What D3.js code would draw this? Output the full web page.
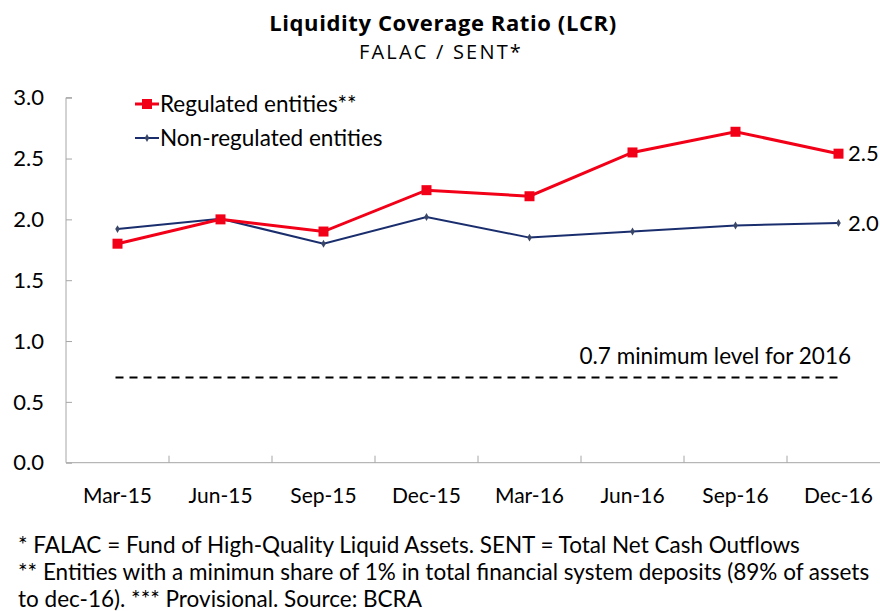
<!DOCTYPE html>
<html>
<head>
<meta charset="utf-8">
<script src="https://cdn.jsdelivr.net/npm/d3@7"></script>
<style>
  body { margin: 0; background: #fff; }
  svg text { font-family: Lato, "Open Sans", sans-serif; fill: #000; }
</style>
</head>
<body>
<div class="chart"></div>
<script>
const width = 880;
const height = 611;

const quarters = ["Mar-15", "Jun-15", "Sep-15", "Dec-15", "Mar-16", "Jun-16", "Sep-16", "Dec-16"];
const regulated = [1.80, 2.00, 1.90, 2.24, 2.19, 2.55, 2.72, 2.54];
const nonRegulated = [1.92, 2.005, 1.80, 2.02, 1.85, 1.90, 1.95, 1.97];
const yTicks = [0, 0.5, 1.0, 1.5, 2.0, 2.5, 3.0];
const minLevel = 0.7;
const footnotes = [
  "* FALAC = Fund of High-Quality Liquid Assets. SENT = Total Net Cash Outflows",
  "** Entities with a minimun share of 1% in total financial system deposits (89% of assets",
  "to dec-16). *** Provisional. Source: BCRA"
];

const red = "#f20018";
const navy = "#1a2e6e";

const svg = d3.select(".chart").append("svg").attr("width", width).attr("height", height);

const x = d3.scaleBand()
    .domain(quarters)
    .range([66, 890]);

const y = d3.scaleLinear()
    .domain([0, 3])
    .range([462.7, 97.7]);

const xc = d => x(d) + x.bandwidth() / 2;

// title
svg.append("text")
    .attr("x", 443).attr("y", 31)
    .attr("text-anchor", "middle")
    .style("font-family", "'Open Sans', sans-serif")
    .style("font-weight", "bold").style("font-size", "22px")
    .style("letter-spacing", "0.6px")
    .text("Liquidity Coverage Ratio (LCR)");
svg.append("text")
    .attr("x", 441).attr("y", 59)
    .attr("text-anchor", "middle")
    .style("font-family", "'Open Sans', sans-serif")
    .style("font-size", "20px")
    .style("letter-spacing", "2.2px")
    .text("FALAC / SENT*");

// axes
const yAxis = svg.append("g")
    .attr("transform", "translate(66,0)")
    .call(d3.axisRight(y).tickValues(yTicks).tickSize(6).tickFormat(""));
yAxis.select(".domain").attr("stroke", "#a6a6a6").attr("d", `M6,${y(3)}H0V${y(0)}`);
yAxis.selectAll(".tick line").attr("stroke", "#a6a6a6");

svg.selectAll(".ylab")
  .data(yTicks)
  .enter()
    .append("text")
    .attr("class", "ylab")
    .attr("x", 44)
    .attr("y", d => y(d))
    .attr("dy", "0.35em")
    .attr("text-anchor", "end")
    .style("font-size", "22px")
    .text(d => d.toFixed(1));

svg.append("line")
    .attr("x1", 66).attr("x2", 880)
    .attr("y1", y(0)).attr("y2", y(0))
    .attr("stroke", "#a6a6a6");

svg.selectAll(".xtick")
  .data(quarters.slice(1))
  .enter()
    .append("line")
    .attr("class", "xtick")
    .attr("x1", d => x(d)).attr("x2", d => x(d))
    .attr("y1", y(0)).attr("y2", y(0) - 7)
    .attr("stroke", "#a6a6a6");

svg.selectAll(".xlab")
  .data(quarters)
  .enter()
    .append("text")
    .attr("class", "xlab")
    .attr("x", d => xc(d))
    .attr("y", 503)
    .attr("text-anchor", "middle")
    .style("font-size", "21px")
    .text(d => d);

// minimum level
svg.append("line")
    .attr("x1", xc(quarters[0]) - 2).attr("x2", xc(quarters[7]))
    .attr("y1", y(minLevel)).attr("y2", y(minLevel))
    .attr("stroke", "#000").attr("stroke-width", 2)
    .attr("stroke-dasharray", "8,6");
svg.append("text")
    .attr("x", 851).attr("y", 364)
    .attr("text-anchor", "end")
    .style("font-size", "22.5px")
    .text("0.7 minimum level for 2016");

// lines
const line = d3.line()
    .x((d, i) => xc(quarters[i]))
    .y(d => y(d));

svg.append("path")
    .datum(nonRegulated)
    .attr("fill", "none").attr("stroke", navy).attr("stroke-width", 2)
    .attr("d", line);
svg.selectAll(".nr")
  .data(nonRegulated)
  .enter()
    .append("path")
    .attr("class", "nr")
    .attr("transform", (d, i) => `translate(${xc(quarters[i])},${y(d)})`)
    .attr("d", d3.symbol(d3.symbolDiamond, 18))
    .attr("fill", "#3a4766");

svg.append("path")
    .datum(regulated)
    .attr("fill", "none").attr("stroke", red).attr("stroke-width", 3)
    .attr("d", line);
svg.selectAll(".rg")
  .data(regulated)
  .enter()
    .append("rect")
    .attr("class", "rg")
    .attr("x", (d, i) => xc(quarters[i]) - 5)
    .attr("y", d => y(d) - 5)
    .attr("width", 10).attr("height", 10)
    .attr("fill", red);

// end labels
svg.append("text")
    .attr("x", 848).attr("y", y(regulated[7]))
    .attr("dy", "0.35em")
    .style("font-size", "22px")
    .text(regulated[7].toFixed(1));
svg.append("text")
    .attr("x", 848).attr("y", y(nonRegulated[7]))
    .attr("dy", "0.35em")
    .style("font-size", "22px")
    .text(nonRegulated[7].toFixed(1));

// legend
const legend = svg.append("g");
legend.append("line")
    .attr("x1", 135).attr("x2", 159).attr("y1", 104).attr("y2", 104)
    .attr("stroke", red).attr("stroke-width", 3);
legend.append("rect")
    .attr("x", 142).attr("y", 99).attr("width", 10).attr("height", 10)
    .attr("fill", red);
legend.append("text")
    .attr("x", 160).attr("y", 104).attr("dy", "0.35em")
    .style("font-size", "22.5px")
    .text("Regulated entities**");
legend.append("line")
    .attr("x1", 135).attr("x2", 159).attr("y1", 138).attr("y2", 138)
    .attr("stroke", navy).attr("stroke-width", 2);
legend.append("path")
    .attr("transform", "translate(147,138)")
    .attr("d", d3.symbol(d3.symbolDiamond, 18))
    .attr("fill", "#3a4766");
legend.append("text")
    .attr("x", 160).attr("y", 138).attr("dy", "0.35em")
    .style("font-size", "22.5px")
    .text("Non-regulated entities");

// footnotes
svg.selectAll(".foot")
  .data(footnotes)
  .enter()
    .append("text")
    .attr("class", "foot")
    .attr("x", 18)
    .attr("y", (d, i) => 553 + i * 27)
    .style("font-size", "22.5px")
    .text(d => d);
</script>
</body>
</html>
